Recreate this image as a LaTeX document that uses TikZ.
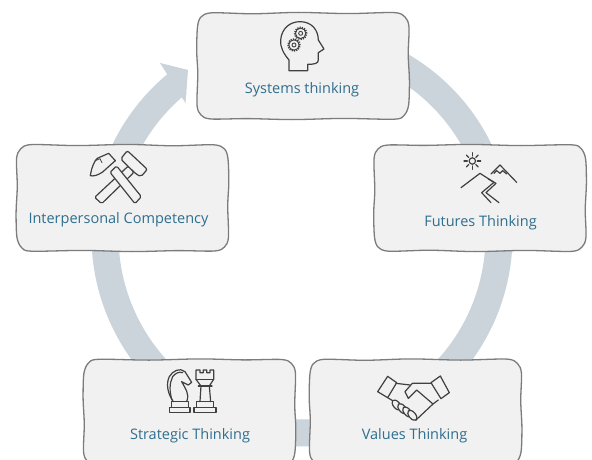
\documentclass[tikz,border=0pt]{standalone}
\usepackage{fontspec}
\setmainfont{Open Sans}
\definecolor{ringc}{HTML}{CBD3DB}
\definecolor{boxf}{HTML}{F1F1F1}
\definecolor{boxl}{HTML}{7C7C7C}
\definecolor{txtc}{HTML}{2E6E8E}
\definecolor{icon}{HTML}{404040}
\tikzset{
 ring/.style={draw=ringc,line width=27pt},
 card/.style={fill=boxf,rounded corners=14pt,inner sep=0pt,minimum width=212pt,minimum height=106pt},
 sketch/.style={draw=boxl,line width=1.3pt,line join=round},
 lab/.style={text=txtc,font=\fontsize{14.5pt}{16pt}\selectfont,inner sep=0pt,anchor=center},
 ic/.style={draw=icon,line width=1.2pt,line join=round,line cap=round},
 icf/.style={ic,fill=boxf},
 zoomed/.style={shift={(#1)},x=.3333pt,y=-.3333pt},
}
% hand-drawn outline round a card: #1 node name, #2 options (flips)
\newcommand{\sketchcard}[2]{%
 \draw[sketch,shift={(#1.center)},#2] plot[smooth cycle,tension=.5] coordinates {
  (-91,53.2) (-50,52.2) (-5,53.6) (45,52.4) (91,53.4)
  (102,49) (106,39)
  (105.2,12) (106.4,-14) (105.6,-39)
  (101,-49.5) (91,-53.2)
  (40,-52.4) (-10,-53.6) (-55,-52.6) (-92,-53)
  (-102,-49) (-106,-39)
  (-105.2,-8) (-106.3,15) (-105.5,39)
  (-102,49)};}
\begin{document}
\begin{tikzpicture}[x=1pt,y=1pt]
\useasboundingbox (0,0) rectangle (592,-460);
\clip (0,0) rectangle (592,-460);
\fill[white] (0,0) rectangle (592,-460);
\coordinate (cc) at (302,-236);
\coordinate (pS) at ([shift={(90:197)}]cc);
\coordinate (pF) at ([shift={(15:197)}]cc);
\coordinate (pV) at ([shift={(-55:197)}]cc);
\coordinate (pT) at ([shift={(-125:197)}]cc);
\coordinate (pI) at ([shift={(170:197)}]cc);
% ring segments, clockwise
\draw[ring] (pS) arc[start angle=90,end angle=15,radius=197pt];
\draw[ring] (pF) arc[start angle=15,end angle=-55,radius=197pt];
\draw[ring] (pV) arc[start angle=-55,end angle=-125,radius=197pt];
\draw[ring] (pT) arc[start angle=-125,end angle=-190,radius=197pt];
\draw[ring] (pI) arc[start angle=170,end angle=129,radius=197pt] coordinate (pA);
\fill[ringc] (160,-63) -- (188,-70) -- (185.5,-103) -- cycle;
% cards
\node[card] (sys) at (303,-66) {};
\node[card] (int) at (122.5,-198) {};
\node[card] (fut) at (480,-198) {};
\node[card] (str) at (189.5,-412.5) {};
\node[card] (val) at (415.5,-412.5) {};
\sketchcard{sys}{};
\sketchcard{int}{xscale=-1};
\sketchcard{fut}{yscale=-1};
\sketchcard{str}{xscale=-1,yscale=-1};
\sketchcard{val}{};
% labels
\node[lab] (tsys) at (302,-90.2) {Systems thinking};
\node[lab] (tint) at (118.5,-220.2) {Interpersonal Competency};
\node[lab] (tfut) at (480.5,-223.2) {Futures Thinking};
\node[lab] (tstr) at (190,-436.2) {Strategic Thinking};
\node[lab] (tval) at (414.5,-436.2) {Values Thinking};
% head with gears
\begin{scope}[zoomed={190,-5}]
\draw[ic] (297,197) -- (297,165) .. controls (280,145) and (270,125) .. (272,105)
  .. controls (275,70) and (300,50) .. (330,50) .. controls (365,50) and (385,75) .. (385,105)
  -- (402,132) -- (385,143) -- (385,165) .. controls (385,175) and (375,178) .. (353,178) -- (353,197) -- cycle;
\draw[ic,line width=1pt] (332,85) circle[radius=5.2pt];
\draw[ic,line width=.9pt] (332,85) circle[radius=2pt];
\draw[icon,line width=1.6pt,dash pattern=on 1.1pt off 1.2pt] (332,85) circle[radius=5.9pt];
\draw[ic,line width=1pt] (312,120) circle[radius=5.2pt];
\draw[ic,line width=.9pt] (312,120) circle[radius=2pt];
\draw[icon,line width=1.6pt,dash pattern=on 1.1pt off 1.2pt] (312,120) circle[radius=5.9pt];
\end{scope}
% hammers
\begin{scope}[zoomed={10,-60}]
\draw[icf,rounded corners=1.5pt] (355,318) -- (372,337) -- (275,431) -- (254,412) -- cycle;
\draw[icf,rounded corners=2pt] (332,297) -- (352,272) -- (412,328) -- (393,350) -- (378,342) -- cycle;
\draw[icf,rounded corners=1.5pt] (300,337) -- (320,318) -- (394,410) -- (375,431) -- cycle;
\draw[icf] (241,347) .. controls (245,320) and (255,300) .. (262,295) -- (296,280) -- (316,302) -- (278,336) .. controls (265,345) and (250,350) .. (241,347) -- cycle;
\draw[ic,line width=.8pt] (256,302) -- (270,296) -- (276,308);
\end{scope}
% mountains and sun
\begin{scope}[zoomed={370,-140}]
\draw[ic] (307,63) circle[radius=3.2pt];
\foreach \a in {0,45,...,315}
  \draw[ic] ([shift={(\a:15)}]307,63) -- ([shift={(\a:25)}]307,63);
\draw[ic] (273,143) -- (330,100) -- (372,127) -- (335,158) -- (363,188);
\draw[ic] (355,117) -- (378,130) -- (348,158) -- (387,188);
\draw[ic] (363,102) -- (390,75) -- (440,127);
\draw[ic] (372,100) -- (380,92) -- (390,100) -- (398,92) -- (410,102);
\end{scope}
% knight and rook
\begin{scope}[zoomed={80,-350}]
\draw[ic] (268,188) -- (330,188) -- (330,172) -- (268,172) -- cycle;
\draw[ic] (275,172) -- (275,155) -- (325,155) -- (325,172);
\draw[ic] (280,155) .. controls (262,130) and (258,100) .. (268,80)
  .. controls (278,62) and (300,52) .. (315,65) -- (335,97) -- (325,105) -- (305,95)
  .. controls (315,115) and (330,130) .. (320,155);
\draw[ic] (276,150) .. controls (268,125) and (268,100) .. (278,80) .. controls (285,70) and (298,64) .. (308,68);
\draw[ic] (342,188) -- (408,188) -- (408,172) -- (342,172) -- cycle;
\draw[ic] (350,172) -- (350,155) -- (400,155) -- (400,172);
\draw[ic] (360,155) -- (363,108) -- (388,108) -- (392,155);
\draw[ic] (355,108) -- (396,108);
\draw[ic] (363,108) -- (348,88) -- (348,60) -- (360,60) -- (360,68) -- (370,68) -- (370,60) -- (380,60) -- (380,68) -- (390,68) -- (390,60) -- (401,60) -- (401,88) -- (388,108);
\draw[ic] (348,88) -- (401,88);
\end{scope}
% handshake
\begin{scope}[zoomed={295,-350}]
\draw[ic] (248,125) -- (278,79) -- (305,98) -- (278,143) -- cycle;
\draw[ic] (408,98) -- (436,78) -- (463,128) -- (438,146) -- cycle;
\draw[ic] (303,100) -- (345,105);
\draw[ic] (408,100) -- (352,100) -- (330,125) -- (340,145) -- (365,120) -- (414,162);
\draw[ic] (278,143) -- (298,155);
\draw[ic] (430,150) -- (414,162) -- (363,210) -- (350,205);
\foreach \cx/\cy in {305/165,322/176,337/186,352/196}
  \draw[icf,rotate around={-50:(\cx,\cy)}] (\cx,\cy) ellipse[x radius=6pt,y radius=3.3pt];
\end{scope}
\end{tikzpicture}
\end{document}
